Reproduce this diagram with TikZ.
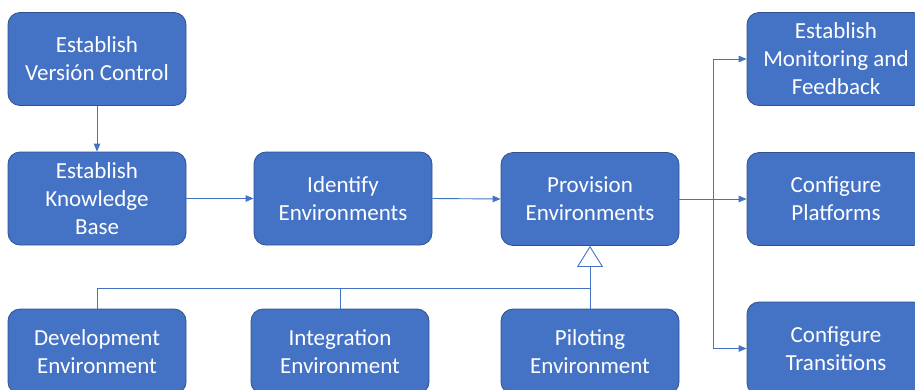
\documentclass[tikz,border=0pt]{standalone}
\usepackage{fontspec}
\setmainfont{Carlito}
\usetikzlibrary{arrows.meta}
\definecolor{boxfill}{HTML}{4472C4}
\definecolor{boxline}{HTML}{2F528F}
\definecolor{conncol}{HTML}{4472C4}
\tikzset{
  proc/.style={draw=boxline, line width=0.8pt, fill=boxfill, rounded corners=12pt,
    minimum width=178pt, minimum height=93pt, inner sep=0pt, align=center,
    text=white, font=\fontsize{23}{28}\selectfont},
  lowproc/.style={proc, minimum height=85pt},
  conn/.style={draw=conncol, line width=0.9pt},
  arr/.style={conn, -{Triangle[length=8pt,width=6.5pt]}},
  gen/.style={conn, -{Triangle[open, length=21pt, width=26pt, fill=white]}}
}
\begin{document}
\begin{tikzpicture}[x=1pt,y=-1pt]
\useasboundingbox (0,0) rectangle (915,389);
\clip (0,0) rectangle (915,389);
\node[proc] (vc) at (97,59) {Establish\\Versión Control};
\node[proc] (kb) at (97,198.5) {Establish\\Knowledge\\Base};
\node[proc] (ie) at (343,198.5) {Identify\\Environments};
\node[proc] (pe) at (590,199) {Provision\\Environments};
\node[proc] (mf) at (836,59) {Establish\\Monitoring and\\Feedback};
\node[proc] (cp) at (836,199) {Configure\\Platforms};
\node[proc] (ct) at (836,348.5) {Configure\\Transitions};
\node[lowproc] (de) at (97,351.5) {Development\\Environment};
\node[lowproc] (in) at (340,351.5) {Integration\\Environment};
\node[lowproc] (pi) at (590,351.5) {Piloting\\Environment};
\coordinate (j) at (713,199);
\coordinate (hb) at (590,288);
\draw[arr] (vc.south) -- (kb.north);
\draw[arr] (kb.east) -- (ie.west);
\draw[arr] (ie.east) -- (pe.west);
\draw[conn] (pe.east) -- (j);
\draw[arr] (j) |- (mf.west);
\draw[arr] (j) -- (cp.west);
\draw[arr] (j) |- (ct.west);
\draw[conn] (de.north) |- (hb);
\draw[conn] (in.north) -- (in.north |- hb);
\draw[gen] (pi.north) -- (pe.south);
\end{tikzpicture}
\end{document}
